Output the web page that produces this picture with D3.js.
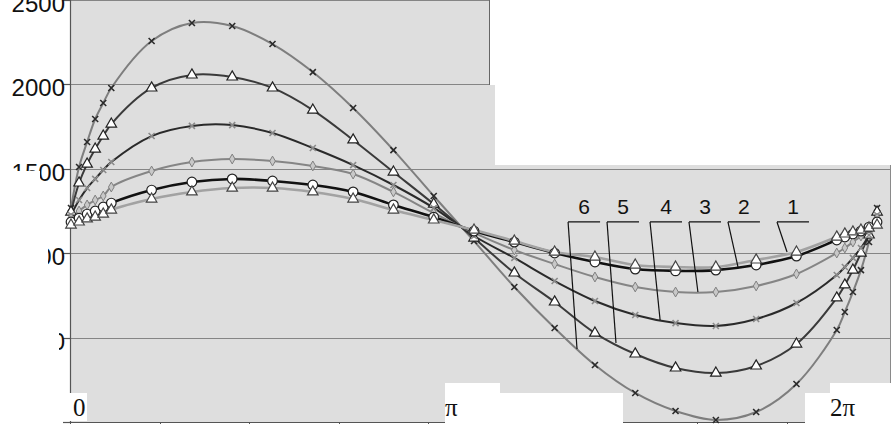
<!DOCTYPE html>
<html><head><meta charset="utf-8">
<script src="https://cdn.jsdelivr.net/npm/d3@7"></script>
<style>html,body{margin:0;padding:0;background:#fff;} svg{display:block;}</style>
</head><body>
<svg id="chart" width="892" height="424"></svg>
<script>
// angle (degrees) of each sample point
const angles = [0,3.6,7.2,10.8,14.4,18,36,54,72,90,108,126,144,162,180,198,216,234,252,270,288,306,324,342,345.6,349.2,352.8,356.4,360];
const series1 = [1167,1185,1203,1214,1232,1256,1321,1363,1386,1386,1363,1321,1256,1197,1137,1072,1007,977,930,918,918,960,1007,1096,1114,1126,1137,1149,1167];
const series2 = [1185,1208,1232,1250,1274,1297,1374,1422,1440,1428,1404,1363,1286,1214,1131,1066,1001,948,906,895,900,930,983,1078,1096,1114,1131,1155,1185];
const series3 = [1208,1250,1286,1315,1339,1392,1487,1540,1558,1546,1517,1469,1363,1238,1120,1019,936,859,800,770,770,806,877,1001,1031,1066,1102,1149,1208];
const series4 = [1226,1315,1386,1440,1493,1540,1694,1754,1759,1712,1623,1522,1404,1268,1102,972,835,717,634,586,569,610,705,871,918,972,1031,1108,1226];
const series5 = [1244,1416,1528,1617,1694,1765,1979,2056,2044,1979,1848,1671,1481,1291,1090,883,711,527,403,320,290,332,462,735,812,900,1001,1108,1244];
const series6 = [1268,1511,1659,1795,1890,1979,2257,2364,2346,2239,2073,1860,1611,1339,1072,800,557,338,172,65,12,59,225,545,652,770,900,1066,1268];
const yTicks = [0,500,1000,1500,2000,2500];
const xTicks = [0,40,80,120,160,200,240,280,320,360];
const xLabels = ["0","π","2π"];
const xLabelAngles = [0,180,360];
// curve labels: name, angle where leader starts, pointer end (angle, value)
const labelNames = ["6","5","4","3","2","1"];
const labelStart = [222.0,239.4,258.6,276.0,293.4,315.3];
const pointerAngle = [226.0,243.4,263.1,280.0,297.9,319.8];
const pointerValue = [432,468,604,770,918,1007];
const leaderValue = 1185;

const svg = d3.select("#chart");
const x = d3.scaleLinear().domain([0,366]).range([71,890.5]);
const y = d3.scaleLinear().domain([0,2500]).range([422,0]);

// plot area
svg.append("rect").attr("x",70).attr("y",0).attr("width",820).attr("height",422).attr("fill","#dedede");
// gridlines
svg.selectAll(".grid").data(yTicks.filter(d=>d>0)).enter().append("line")
  .attr("x1",70).attr("x2",890).attr("y1",d=>Math.round(y(d))+0.5).attr("y2",d=>Math.round(y(d))+0.5)
  .attr("stroke","#858585").attr("stroke-width",1.2);
// right border
svg.append("line").attr("x1",890.5).attr("x2",890.5).attr("y1",0).attr("y2",422).attr("stroke","#8a8a8a");
// y axis
svg.append("line").attr("x1",70.5).attr("x2",70.5).attr("y1",0).attr("y2",422).attr("stroke","#555").attr("stroke-width",1.2);
svg.selectAll(".ytick").data(yTicks).enter().append("line")
  .attr("x1",63).attr("x2",70).attr("y1",d=>Math.round(y(d))+0.5).attr("y2",d=>Math.round(y(d))+0.5)
  .attr("stroke","#555").attr("stroke-width",1.2);
svg.selectAll(".ylab").data(yTicks.filter(d=>d>0)).enter().append("text")
  .attr("x",65).attr("y",d=>y(d)+12).attr("text-anchor","end")
  .attr("font-family","Liberation Sans, Arial, sans-serif").attr("font-size",24).attr("fill","#111")
  .text(d=>d);
// x axis
svg.append("line").attr("x1",64).attr("x2",890).attr("y1",422.5).attr("y2",422.5).attr("stroke","#555").attr("stroke-width",1.2);
svg.selectAll(".xtick").data(xTicks).enter().append("line")
  .attr("x1",d=>Math.round(x(d))-0.5).attr("x2",d=>Math.round(x(d))-0.5).attr("y1",422).attr("y2",427)
  .attr("stroke","#555");

const seriesList = [
  {v:series6, line:"#7e7e7e", w:2, marker:"x", ms:"#2a2a2a"},
  {v:series5, line:"#3a3a3a", w:2, marker:"tri", ms:"#222"},
  {v:series4, line:"#2a2a2a", w:2, marker:"x", ms:"#8a8a8a"},
  {v:series3, line:"#858585", w:2, marker:"dia", ms:"#808080"},
  {v:series2, line:"#111", w:2.6, marker:"circ", ms:"#222"},
  {v:series1, line:"#a2a2a2", w:2.6, marker:"tri", ms:"#444"}
];
const lineGen = d3.line().x((d,i)=>x(angles[i])).y(d=>y(d)).curve(d3.curveCatmullRom.alpha(0.5));
seriesList.forEach(s=>{
  svg.append("path").attr("d",lineGen(s.v)).attr("fill","none").attr("stroke",s.line).attr("stroke-width",s.w);
});
seriesList.forEach(s=>{
  const g = svg.append("g");
  s.v.forEach((v,i)=>{
    const cx = x(angles[i]), cy = y(v);
    if (s.marker==="x") {
      g.append("path").attr("d",`M${cx-3},${cy-3}L${cx+3},${cy+3}M${cx-3},${cy+3}L${cx+3},${cy-3}`)
        .attr("stroke",s.ms).attr("stroke-width",1.6).attr("fill","none");
    } else if (s.marker==="tri") {
      g.append("path").attr("d",d3.symbol(d3.symbolTriangle,48)()).attr("transform",`translate(${cx},${cy})`)
        .attr("fill","#fff").attr("stroke",s.ms).attr("stroke-width",1.2);
    } else if (s.marker==="circ") {
      g.append("circle").attr("cx",cx).attr("cy",cy).attr("r",4.8)
        .attr("fill","#fff").attr("stroke",s.ms).attr("stroke-width",1.2);
    } else {
      g.append("path").attr("d",d3.symbol(d3.symbolDiamond,28)()).attr("transform",`translate(${cx},${cy})`)
        .attr("fill","#c8c8c8").attr("stroke",s.ms).attr("stroke-width",1);
    }
  });
});

// white masks (blanked regions of the source)
const white = (X,Y,W,H)=>svg.append("rect").attr("x",X).attr("y",Y).attr("width",W).attr("height",H).attr("fill","#fff");
white(490,0,402,85);
svg.append("line").attr("x1",489.5).attr("x2",489.5).attr("y1",0).attr("y2",85).attr("stroke","#666");
white(495,85,397,80);
white(445,383,55,41); white(500,393,123,31);
white(805,393,87,31); white(830,383,62,10);
white(68,393,19,28);
white(0,240,48,30);
white(0,325,59,30);
white(0,171,40,14);

// x labels
svg.selectAll(".xlab").data(xLabels).enter().append("text")
  .attr("x",(d,i)=>x(xLabelAngles[i]) + [2,-29,-47][i])
  .attr("y",416)
  .attr("font-family","Liberation Serif, Times New Roman, serif").attr("font-size",25).attr("fill","#111")
  .text(d=>d);

// curve number labels with leader lines
labelNames.forEach((n,i)=>{
  const x0 = x(labelStart[i]), y0 = y(leaderValue);
  svg.append("line").attr("x1",x0).attr("x2",x0+32).attr("y1",y0).attr("y2",y0).attr("stroke","#111").attr("stroke-width",1.2);
  svg.append("line").attr("x1",x0).attr("x2",x(pointerAngle[i])).attr("y1",y0).attr("y2",y(pointerValue[i])).attr("stroke","#111").attr("stroke-width",1.2);
  svg.append("text").attr("x",x0+16).attr("y",y0-8).attr("text-anchor","middle")
    .attr("font-family","Liberation Sans, Arial, sans-serif").attr("font-size",21).attr("fill","#111").text(n);
});
</script>
</body></html>
